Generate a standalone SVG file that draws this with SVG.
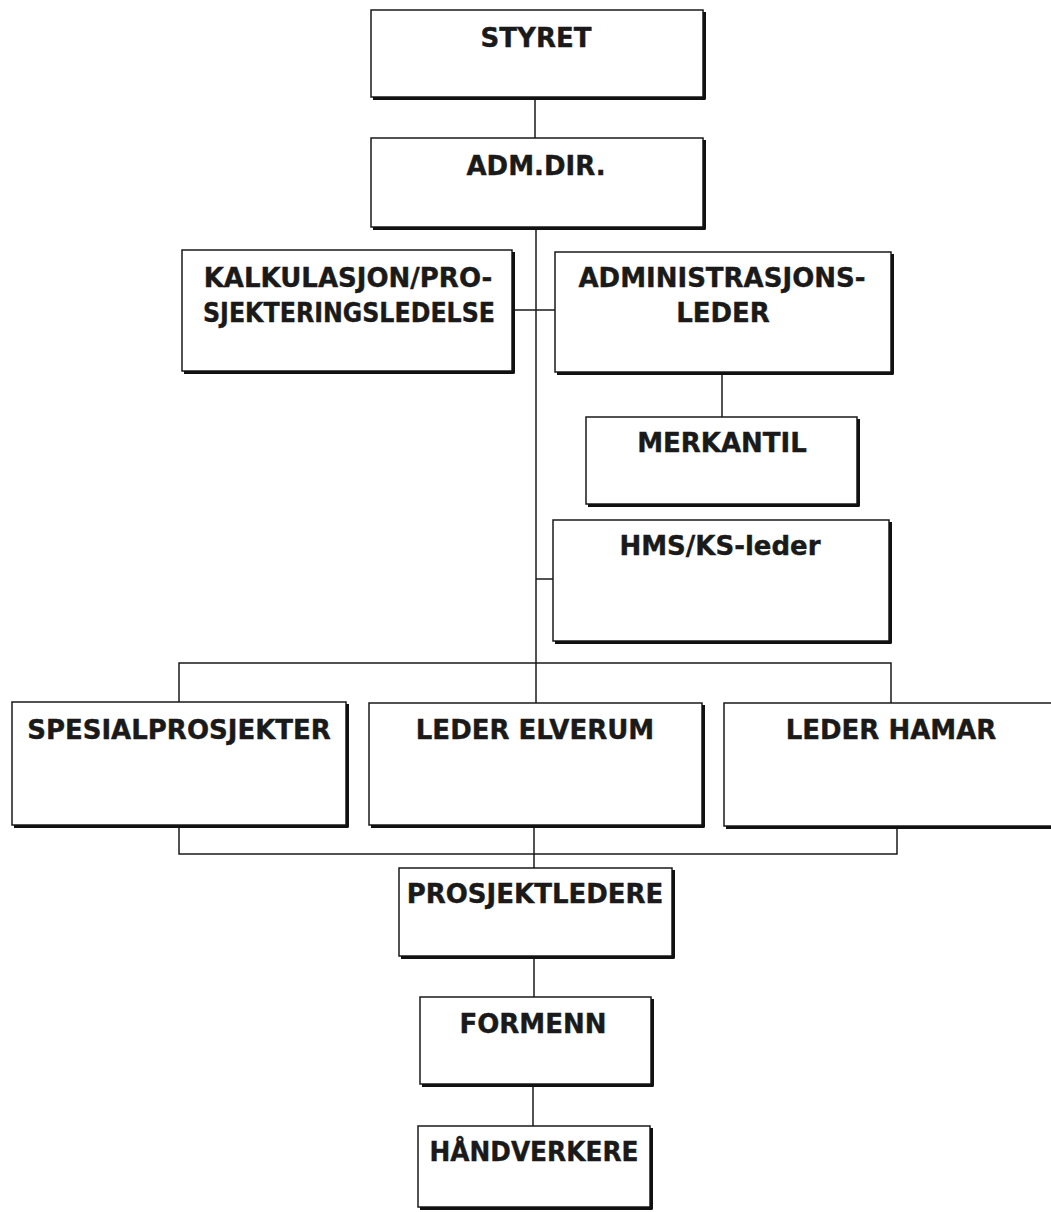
<svg xmlns="http://www.w3.org/2000/svg" width="1051" height="1212" viewBox="0 0 1051 1212">
  <style>
    .box { fill: #ffffff; stroke: #1a1a1a; stroke-width: 1.5; }
    .shade { fill: none; stroke: #111111; stroke-width: 3; stroke-linejoin: round; }
    .lbl { font-family: "DejaVu Sans", Verdana, sans-serif; font-weight: bold; font-size: 26px; fill: #1a1a1a; stroke: #1a1a1a; stroke-width: 0.4; text-anchor: middle; }
    .wire { fill: none; stroke: #1a1a1a; stroke-width: 1.5; }
  </style>
  <rect width="1051" height="1212" fill="#ffffff"/>

  <!-- connectors -->
  <g id="connectors">
    <path class="wire" d="M535 98 V138"/>
    <path class="wire" d="M536 228 V703"/>
    <path class="wire" d="M513 310 H555"/>
    <path class="wire" d="M722 373 V417"/>
    <path class="wire" d="M536 579 H553"/>
    <path class="wire" d="M179 702 V663 H891 V703"/>
    <path class="wire" d="M179 826 V854 H897 V827"/>
    <path class="wire" d="M534 826 V868"/>
    <path class="wire" d="M534 957 V997"/>
    <path class="wire" d="M533 1085 V1126"/>
  </g>

  <g id="styret">
    <rect class="box" x="371" y="10" width="332" height="87"/>
    <path class="shade" d="M373 98.5 H704.5 V12"/>
    <text class="lbl" x="536" y="47">STYRET</text>
  </g>

  <g id="adm-dir">
    <rect class="box" x="371" y="138" width="332" height="89"/>
    <path class="shade" d="M373 228.5 H704.5 V140"/>
    <text class="lbl" x="536" y="175">ADM.DIR.</text>
  </g>

  <g id="kalkulasjon">
    <rect class="box" x="182" y="250" width="330" height="121"/>
    <path class="shade" d="M184 372.5 H513.5 V252"/>
    <text class="lbl" x="348" y="287">KALKULASJON/PRO-</text>
    <text class="lbl" x="349" y="322" textLength="292" lengthAdjust="spacingAndGlyphs">SJEKTERINGSLEDELSE</text>
  </g>

  <g id="administrasjonsleder">
    <rect class="box" x="555" y="252" width="336" height="120"/>
    <path class="shade" d="M557 373.5 H892.5 V254"/>
    <text class="lbl" x="722" y="287">ADMINISTRASJONS-</text>
    <text class="lbl" x="723" y="322">LEDER</text>
  </g>

  <g id="merkantil">
    <rect class="box" x="586" y="417" width="271" height="87"/>
    <path class="shade" d="M588 505.5 H858.5 V419"/>
    <text class="lbl" x="722" y="452">MERKANTIL</text>
  </g>

  <g id="hms-ks-leder">
    <rect class="box" x="553" y="520" width="336" height="121"/>
    <path class="shade" d="M555 642.5 H890.5 V522"/>
    <text class="lbl" x="720" y="555">HMS/KS-leder</text>
  </g>

  <g id="spesialprosjekter">
    <rect class="box" x="12" y="702" width="334" height="123"/>
    <path class="shade" d="M14 826.5 H347.5 V704"/>
    <text class="lbl" x="179" y="739">SPESIALPROSJEKTER</text>
  </g>

  <g id="leder-elverum">
    <rect class="box" x="369" y="703" width="333" height="122"/>
    <path class="shade" d="M371 826.5 H703.5 V705"/>
    <text class="lbl" x="535" y="739">LEDER ELVERUM</text>
  </g>

  <g id="leder-hamar">
    <rect class="box" x="724" y="703" width="333" height="123"/>
    <path class="shade" d="M726 827.5 H1058.5 V705"/>
    <text class="lbl" x="891" y="739">LEDER HAMAR</text>
  </g>

  <g id="prosjektledere">
    <rect class="box" x="399" y="868" width="273" height="88"/>
    <path class="shade" d="M401 957.5 H673.5 V870"/>
    <text class="lbl" x="535" y="903">PROSJEKTLEDERE</text>
  </g>

  <g id="formenn">
    <rect class="box" x="420" y="997" width="231" height="87"/>
    <path class="shade" d="M422 1085.5 H652.5 V999"/>
    <text class="lbl" x="533" y="1033">FORMENN</text>
  </g>

  <g id="handverkere">
    <rect class="box" x="418" y="1126" width="232" height="81"/>
    <path class="shade" d="M420 1208.5 H651.5 V1128"/>
    <text class="lbl" x="534" y="1161" textLength="209" lengthAdjust="spacingAndGlyphs">HÅNDVERKERE</text>
  </g>
</svg>
